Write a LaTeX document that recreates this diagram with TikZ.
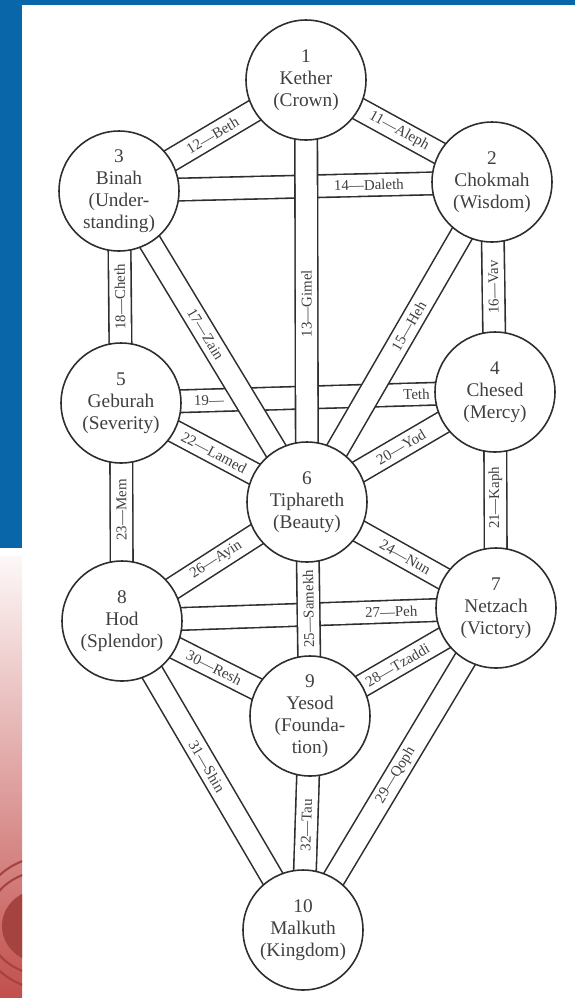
\documentclass[tikz,border=0pt]{standalone}
\usepackage{fontspec}
\setmainfont{Liberation Serif}
\usepackage{tikz}
\usetikzlibrary{backgrounds}
\definecolor{slideblue}{HTML}{0866A9}
\definecolor{slidered}{HTML}{C24F4C}
\definecolor{inkgray}{HTML}{2E2E2E}

\begin{document}
\begin{tikzpicture}[
    x=0.02cm, y=-0.02cm,
    sefirah/.style={
      circle, draw=inkgray, line width=0.9pt, fill=white,
      minimum size=2.4cm, inner sep=0pt, align=center,
      text=black!75, font=\fontsize{11}{12.5}\selectfont
    },
    band/.style={draw=inkgray, line width=0.9pt, double=white, double distance=0.42cm},
    plabel/.style={sloped, allow upside down, inner sep=1pt, text=black!75, font=\fontsize{8.5}{9}\selectfont},
  ]
  \useasboundingbox (0,0) rectangle (575,998);

  % Slide frame
  \fill[slideblue] (0,0) rectangle (575,5);
  \fill[slideblue] (0,0) rectangle (22,548);
  \shade[top color=slidered!4, bottom color=slidered] (0,556) rectangle (22,998);
  \begin{scope}
    \clip (0,556) rectangle (22,998);
    \fill[slidered!85!black] (42,926) ellipse (40 and 37);
    \draw[slidered!85!black, line width=1.2pt] (45,923) ellipse (58 and 52);
    \draw[slidered!85!black, line width=1.2pt] (50,923) ellipse (72 and 67);
  \end{scope}

  % Sefirot
  \node[sefirah] (kether) at (306,80) {1\\Kether\\(Crown)};
  \node[sefirah] (chokmah) at (492,182) {2\\Chokmah\\(Wisdom)};
  \node[sefirah] (binah) at (119,191) {3\\Binah\\(Under-\\standing)};
  \node[sefirah] (chesed) at (495,392) {4\\Chesed\\(Mercy)};
  \node[sefirah] (geburah) at (121,403) {5\\Geburah\\(Severity)};
  \node[sefirah] (tiphareth) at (307,502) {6\\Tiphareth\\(Beauty)};
  \node[sefirah] (netzach) at (496,608) {7\\Netzach\\(Victory)};
  \node[sefirah] (hod) at (122,621) {8\\Hod\\(Splendor)};
  \node[sefirah] (yesod) at (310,716) {9\\Yesod\\(Founda-\\tion)};
  \node[sefirah] (malkuth) at (303,930) {10\\Malkuth\\(Kingdom)};

  % Paths
  \begin{scope}[on background layer]
    % crossed ones first
    \draw[band] (binah.center) -- node[plabel, pos=0.67] {14—Daleth} (chokmah.center);
    \draw[band] (geburah.center) -- node[plabel, pos=0.235] {19—} node[plabel, pos=0.79] {Teth} (chesed.center);
    \draw[band] (hod.center) -- node[plabel, pos=0.72] {27—Peh} (netzach.center);

    \draw[band] (kether.center) -- node[plabel] {11—Aleph} (chokmah.center);
    \draw[band] (binah.center) -- node[plabel] {12—Beth} (kether.center);
    \draw[band] (tiphareth.center) -- node[plabel, pos=0.47] {13—Gimel} (kether.center);
    \draw[band] (tiphareth.center) -- node[plabel, pos=0.55] {15—Heh} (chokmah.center);
    \draw[band] (chesed.center) -- node[plabel] {16—Vav} (chokmah.center);
    \draw[band] (binah.center) -- node[plabel, pos=0.46] {17—Zain} (tiphareth.center);
    \draw[band] (geburah.center) -- node[plabel] {18—Cheth} (binah.center);
    \draw[band] (tiphareth.center) -- node[plabel] {20—Yod} (chesed.center);
    \draw[band] (netzach.center) -- node[plabel, pos=0.51] {21—Kaph} (chesed.center);
    \draw[band] (geburah.center) -- node[plabel] {22—Lamed} (tiphareth.center);
    \draw[band] (hod.center) -- node[plabel, pos=0.51] {23—Mem} (geburah.center);
    \draw[band] (tiphareth.center) -- node[plabel, pos=0.52] {24—Nun} (netzach.center);
    \draw[band] (yesod.center) -- node[plabel] {25—Samekh} (tiphareth.center);
    \draw[band] (hod.center) -- node[plabel, pos=0.51] {26—Ayin} (tiphareth.center);
    \draw[band] (yesod.center) -- node[plabel, pos=0.47] {28—Tzaddi} (netzach.center);
    \draw[band] (malkuth.center) -- node[plabel, pos=0.48] {29—Qoph} (netzach.center);
    \draw[band] (hod.center) -- node[plabel, pos=0.49] {30—Resh} (yesod.center);
    \draw[band] (hod.center) -- node[plabel, pos=0.47] {31—Shin} (malkuth.center);
    \draw[band] (malkuth.center) -- node[plabel, pos=0.49] {32—Tau} (yesod.center);
  \end{scope}

\end{tikzpicture}
\end{document}
